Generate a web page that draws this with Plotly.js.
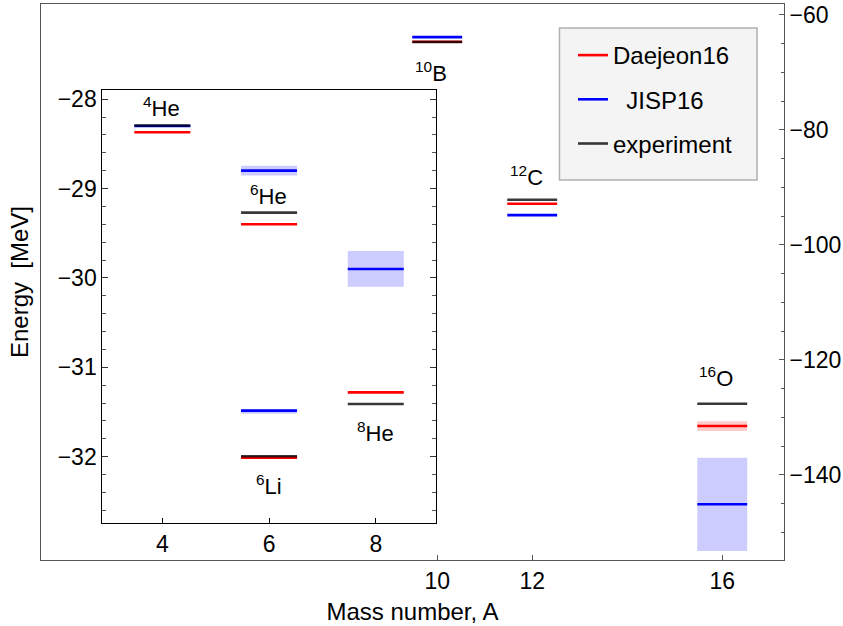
<!DOCTYPE html>
<html>
<head>
<meta charset="utf-8">
<script src="https://cdn.plot.ly/plotly-3.0.1.min.js"></script>
<style>html,body{margin:0;padding:0;background:#fff;}#chart{width:843px;height:626px;}</style>
</head>
<body>
<div id="chart"></div>
<script>
// ---- data ----
const nuclei      = ['4He', '6He', '6Li', '8He', '10B', '12C', '16O'];
const massNumbers = [4, 6, 6, 8, 10, 12, 16];
const daejeon16   = [-28.37, -29.40, -32.01, -31.28, -64.70, -92.87, -131.50];
const jisp16      = [-28.30, -28.80, -31.485, -29.90, -63.90, -94.83, -145.10];
const experiment  = [-28.295, -29.27, -31.995, -31.41, -64.75, -92.16, -127.62];
const jisp16Low   = [null, -28.855, -31.52, -30.10, null, null, -153.2];
const jisp16High  = [null, -28.745, -31.465, -29.70, null, null, -137.0];
const daejeon16Low  = [null, null, null, null, null, null, -132.35];
const daejeon16High = [null, null, null, null, null, null, -130.65];
const seriesNames = ['Daejeon16', '\u00a0\u00a0JISP16', 'experiment'];
const insetTicks  = [4, 6, 8];
const mainTicks   = [10, 12, 16];

// ---- styling / layout constants ----
const HALF = 0.525;            // half width of a level line (in A units)
const INSET_MAX_A = 8;         // nuclei up to this A go in the inset
const FONT = 'Liberation Sans, Arial, Helvetica, sans-serif';
const colors = {d: '#ff0000', j: '#0000ff', e: 'rgba(0,0,0,0.78)'};
// label placement (energy of label centre, px shift)
const labelY = [-28.085, -29.075, -32.315, -31.72, -70.0, -88.0, -123.0];
const labelShiftX = [-1, -1, 0, 0, -6, -6, -6];

function inInset(i) { return massNumbers[i] <= INSET_MAX_A; }

function levelXY(values, inset) {
  const x = [], y = [];
  values.forEach((v, i) => {
    if (v === null || inInset(i) !== inset) return;
    x.push(massNumbers[i] - HALF, massNumbers[i] + HALF, null);
    y.push(v, v, null);
  });
  return {x, y};
}
function bandXY(lo, hi, inset) {
  const x = [], y = [];
  lo.forEach((l, i) => {
    if (l === null || inInset(i) !== inset) return;
    const a = massNumbers[i];
    x.push(a - HALF, a + HALF, a + HALF, a - HALF, a - HALF, null);
    y.push(l, l, hi[i], hi[i], l, null);
  });
  return {x, y};
}

const traces = [];
[true, false].forEach(inset => {
  const ax = inset ? {xaxis: 'x2', yaxis: 'y2'} : {xaxis: 'x', yaxis: 'y'};
  const bj = bandXY(jisp16Low, jisp16High, inset);
  if (bj.x.length) traces.push(Object.assign({type: 'scatter', mode: 'lines', x: bj.x, y: bj.y,
    fill: 'toself', fillcolor: 'rgba(0,0,255,0.2)', line: {width: 0, color: 'rgba(0,0,0,0)'},
    hoverinfo: 'skip', showlegend: false}, ax));
  const bd = bandXY(daejeon16Low, daejeon16High, inset);
  if (bd.x.length) traces.push(Object.assign({type: 'scatter', mode: 'lines', x: bd.x, y: bd.y,
    fill: 'toself', fillcolor: 'rgba(255,0,0,0.2)', line: {width: 0, color: 'rgba(0,0,0,0)'},
    hoverinfo: 'skip', showlegend: false}, ax));
  [[daejeon16, colors.d, 0], [jisp16, colors.j, 1], [experiment, colors.e, 2]].forEach(([vals, c, k]) => {
    const p = levelXY(vals, inset);
    traces.push(Object.assign({type: 'scatter', mode: 'lines', x: p.x, y: p.y,
      name: seriesNames[k], legendgroup: 'g' + k, showlegend: !inset,
      line: {color: c, width: 2.6}}, ax));
  });
});

function labelHTML(n) {
  const m = n.match(/^(\d+)(.*)$/);
  return '<sup>' + m[1] + '</sup>' + m[2];
}
const annotations = nuclei.map((n, i) => ({
  text: labelHTML(n), x: massNumbers[i], y: labelY[i],
  xref: inInset(i) ? 'x2' : 'x', yref: inInset(i) ? 'y2' : 'y',
  showarrow: false, xanchor: 'center', yanchor: 'middle', xshift: labelShiftX[i],
  font: {family: FONT, size: 22, color: '#000'}
}));

// legend frame (paper coordinates of the grey box)
const W = 843, H = 626, ML = 41, MR = 59, MT = 4, MB = 66;
const pw = W - ML - MR, ph = H - MT - MB;
const px = v => (v - ML) / pw, py = v => (H - MB - v) / ph;

const layout = {
  width: W, height: H,
  margin: {l: ML, r: MR, t: MT, b: MB},
  paper_bgcolor: '#fff', plot_bgcolor: '#fff',
  font: {family: FONT, color: '#000', size: 23},
  showlegend: true,
  legend: {x: px(573), y: py(33), xanchor: 'left', yanchor: 'top',
    bgcolor: 'rgba(0,0,0,0)', borderwidth: 0,
    font: {family: FONT, size: 24, color: '#000'}, tracegroupgap: 10, traceorder: 'grouped'},
  shapes: [{type: 'rect', xref: 'paper', yref: 'paper', x0: px(559.5), x1: px(757), y0: py(180), y1: py(28),
    fillcolor: '#f4f4f4', line: {color: '#b0b0b0', width: 1.5}, layer: 'below'}],
  xaxis: {range: [1.66, 17.3], tickvals: mainTicks, ticks: 'inside', ticklen: 5, tickcolor: '#555',
    showline: true, linecolor: '#555', linewidth: 1, mirror: true, showgrid: false, zeroline: false,
    tickfont: {size: 23}, title: {text: 'Mass number, A', font: {size: 24}, standoff: 10}},
  yaxis: {range: [-154.78, -58.14], side: 'right', dtick: 20, ticks: 'inside', ticklen: 5, tickcolor: '#555',
    minor: {dtick: 5, ticks: 'inside', ticklen: 3, tickcolor: '#555'},
    showline: true, linecolor: '#555', linewidth: 1, mirror: true, showgrid: false, zeroline: false,
    tickfont: {size: 23}},
  yaxis3: {overlaying: 'y', side: 'left', anchor: 'x', range: [-154.78, -58.14],
    showline: false, showticklabels: false, ticks: '', showgrid: false, zeroline: false,
    title: {text: 'Energy\u00a0\u00a0[MeV]', font: {size: 24}, standoff: 4}},
  xaxis2: {domain: [0.0825, 0.531], anchor: 'y2', range: [2.875, 9.12], tickvals: insetTicks,
    ticks: 'inside', ticklen: 5, tickcolor: '#000', showline: true, linecolor: '#000', linewidth: 1,
    mirror: true, showgrid: false, zeroline: false, tickfont: {size: 23}},
  yaxis2: {domain: [0.066, 0.845], anchor: 'x2', range: [-32.745, -27.9], dtick: 1,
    ticks: 'inside', ticklen: 6, tickcolor: '#333',
    minor: {dtick: 0.2, ticks: 'inside', ticklen: 3.5, tickcolor: '#555'},
    showline: true, linecolor: '#000', linewidth: 1, mirror: 'ticks',
    showgrid: false, zeroline: false, tickfont: {size: 23}},
  annotations: annotations
};
traces.push({type: 'scatter', x: [null], y: [null], yaxis: 'y3', xaxis: 'x', showlegend: false, hoverinfo: 'skip'});

Plotly.newPlot('chart', traces, layout, {displayModeBar: false, staticPlot: true});
</script>
</body>
</html>
